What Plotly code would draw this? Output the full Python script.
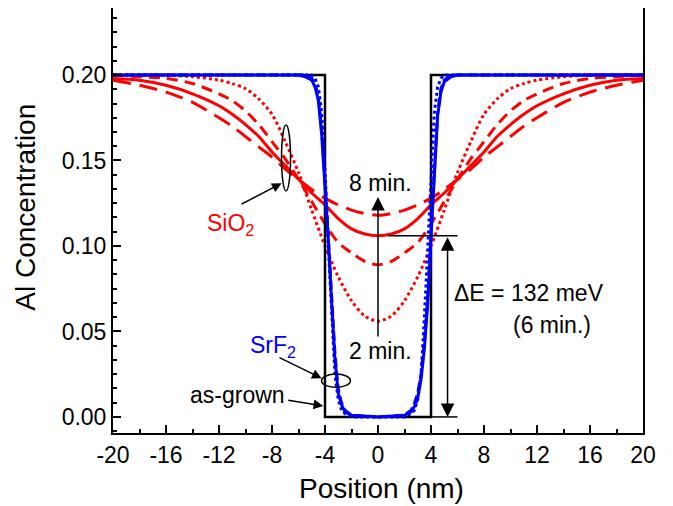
import plotly.graph_objects as go

# ---------------- data ----------------
red_x = [-20, -18, -16, -14, -12, -11, -10, -9, -8, -7, -6, -5, -4, -3, -2, -1, 0,
         1, 2, 3, 4, 5, 6, 7, 8, 9, 10, 11, 12, 14, 16, 18, 20]
sio2_2min = [0.200, 0.200, 0.200, 0.199, 0.197, 0.195, 0.192, 0.186, 0.177, 0.161, 0.143, 0.121, 0.100, 0.082, 0.068, 0.059, 0.056,
             0.059, 0.068, 0.082, 0.100, 0.121, 0.143, 0.161, 0.177, 0.186, 0.192, 0.195, 0.197, 0.199, 0.200, 0.200, 0.200]
sio2_4min = [0.200, 0.199, 0.198, 0.195, 0.189, 0.185, 0.179, 0.171, 0.161, 0.151, 0.139, 0.126, 0.113, 0.102, 0.096, 0.091, 0.089,
             0.091, 0.096, 0.102, 0.113, 0.126, 0.139, 0.151, 0.161, 0.171, 0.179, 0.185, 0.189, 0.195, 0.198, 0.199, 0.200]
sio2_6min = [0.198, 0.197, 0.194, 0.189, 0.182, 0.177, 0.171, 0.164, 0.155, 0.147, 0.139, 0.131, 0.124, 0.116, 0.110, 0.107, 0.106,
             0.107, 0.110, 0.116, 0.124, 0.131, 0.139, 0.147, 0.155, 0.164, 0.171, 0.177, 0.182, 0.189, 0.194, 0.197, 0.198]
sio2_8min = [0.197, 0.194, 0.190, 0.184, 0.175, 0.170, 0.164, 0.158, 0.152, 0.145, 0.139, 0.133, 0.128, 0.124, 0.121, 0.119, 0.118,
             0.119, 0.121, 0.124, 0.128, 0.133, 0.139, 0.145, 0.152, 0.158, 0.164, 0.170, 0.175, 0.184, 0.190, 0.194, 0.197]

blue_x = [-20, -6, -5.5, -5, -4.75, -4.5, -4.25, -4, -3.75, -3.5, -3.25, -3, -2.75, -2.5, -2, 0,
          2, 2.5, 2.75, 3, 3.25, 3.5, 3.75, 4, 4.25, 4.5, 4.75, 5, 5.5, 6, 20]
srf2_solid = [0.2, 0.2, 0.199, 0.197, 0.193, 0.185, 0.165, 0.137, 0.104, 0.067, 0.034, 0.014, 0.007, 0.003, 0.001, 0.0,
              0.001, 0.003, 0.006, 0.011, 0.022, 0.040, 0.066, 0.105, 0.143, 0.176, 0.190, 0.196, 0.199, 0.2, 0.2]
srf2_dash = [0.2, 0.2, 0.2, 0.198, 0.195, 0.187, 0.168, 0.139, 0.106, 0.070, 0.037, 0.016, 0.008, 0.004, 0.001, 0.0,
             0.001, 0.004, 0.008, 0.014, 0.025, 0.044, 0.070, 0.108, 0.146, 0.178, 0.192, 0.197, 0.2, 0.2, 0.2]
srf2_dot = [0.2, 0.2, 0.2, 0.2, 0.198, 0.193, 0.178, 0.145, 0.100, 0.058, 0.025, 0.010, 0.004, 0.002, 0.0, 0.0,
            0.0, 0.002, 0.004, 0.010, 0.025, 0.058, 0.100, 0.145, 0.178, 0.193, 0.198, 0.2, 0.2, 0.2, 0.2]

grown_x = [-20, -4, -4, 4, 4, 20]
grown_y = [0.2, 0.2, 0.0, 0.0, 0.2, 0.2]

x_ticks = [-20, -16, -12, -8, -4, 0, 4, 8, 12, 16, 20]
y_ticks = [0.00, 0.05, 0.10, 0.15, 0.20]

dE_level = 0.106   # minimum of 6-min curve

RED = "#FF0000"
BLUE = "#0000FF"
FONT = "Liberation Sans, Arial, sans-serif"

fig = go.Figure()

# red SiO2 curves
for ys, dash in [(sio2_2min, "3px,3px"), (sio2_4min, "11px,7px"),
                 (sio2_6min, "solid"), (sio2_8min, "18px,9px")]:
    fig.add_trace(go.Scatter(x=red_x, y=ys, mode="lines",
                             line=dict(color=RED, width=3, dash=dash, shape="spline", smoothing=0.8)))

# as-grown step
fig.add_trace(go.Scatter(x=grown_x, y=grown_y, mode="lines",
                         line=dict(color="black", width=2.5)))

# blue SrF2 curves
for ys, dash in [(srf2_dot, "3px,3px"), (srf2_dash, "9px,4px"), (srf2_solid, "solid")]:
    fig.add_trace(go.Scatter(x=blue_x, y=ys, mode="lines",
                             line=dict(color=BLUE, width=3, dash=dash)))

# shapes: ellipses and ΔE reference lines
fig.add_shape(type="circle", xref="x", yref="y", x0=-7.28, x1=-6.60, y0=0.1322, y1=0.1708,
              line=dict(color="black", width=1.5))
fig.add_shape(type="circle", xref="x", yref="y", x0=-4.26, x1=-2.08, y0=0.0173, y1=0.0251,
              line=dict(color="black", width=1.5))
fig.add_shape(type="line", xref="x", yref="y", x0=0.75, x1=6.0, y0=dE_level, y1=dE_level,
              line=dict(color="black", width=1.5))
fig.add_shape(type="line", xref="x", yref="y", x0=4.0, x1=6.0, y0=0, y1=0,
              line=dict(color="black", width=1.5))

ann = []
def arrow(xh, yh, xt, yt, both=False, size=1.2):
    d = dict(x=xh, y=yh, ax=xt, ay=yt, xref="x", yref="y", axref="x", ayref="y",
             text="", showarrow=True, arrowhead=2, arrowsize=size, arrowwidth=1.5,
             arrowcolor="black", standoff=0, startstandoff=0)
    if both:
        d.update(arrowside="end+start", startarrowhead=2, startarrowsize=size)
    ann.append(d)

def label(x, y, t, color="black", size=23):
    ann.append(dict(x=x, y=y, xref="x", yref="y", text=t, showarrow=False,
                    font=dict(family=FONT, size=size, color=color),
                    xanchor="center", yanchor="middle"))

arrow(0, 0.1287, 0, 0.0462, size=1.8)
arrow(5.25, 0.0, 5.25, dE_level, both=True, size=1.8)
arrow(-7.27, 0.1367, -10.42, 0.124, size=1.3)
arrow(-4.25, 0.0226, -7.55, 0.0351, size=1.3)
arrow(-4.13, 0.0064, -6.89, 0.0099, size=1.3)

label(0.2, 0.137, "8 min.")
label(0.2, 0.0386, "2 min.")
label(-11.1, 0.1123, "SiO<sub>2</sub>", RED)
label(-7.9, 0.041, "SrF<sub>2</sub>", BLUE)
label(-10.57, 0.0129, "as-grown")
label(11.4, 0.0725, "ΔE = 132 meV")
label(13.13, 0.0538, "(6 min.)")

# axis titles placed as paper annotations (reference is slightly off-centre)
ann.append(dict(xref="paper", yref="paper", x=0, y=0.53, xshift=-87, text="Al Concentration",
                textangle=-90, showarrow=False, xanchor="center", yanchor="middle",
                font=dict(family=FONT, size=28, color="black")))
ann.append(dict(xref="paper", yref="paper", x=0.506, y=0, yshift=-55, text="Position (nm)",
                showarrow=False, xanchor="center", yanchor="middle",
                font=dict(family=FONT, size=28, color="black")))

# page body has an 8px offset, so the figure is sized to fit the 673x506 view
fig.update_layout(
    width=665, height=498,
    margin=dict(l=105, r=30, t=0, b=73, autoexpand=False),
    paper_bgcolor="white", plot_bgcolor="white",
    showlegend=False,
    annotations=ann,
    font=dict(family=FONT, color="black"),
)

fig.update_xaxes(
    range=[-20, 20], tickmode="array", tickvals=x_ticks,
    ticktext=[str(v) for v in x_ticks],
    ticks="inside", ticklen=8, tickwidth=1.5, tickcolor="black",
    minor=dict(dtick=2, tick0=0, ticks="inside", ticklen=4, tickwidth=1.5, tickcolor="black"),
    showline=True, linewidth=2, linecolor="black", mirror=True,
    showgrid=False, zeroline=False, automargin=False,
    tickfont=dict(family=FONT, size=23, color="black"),
)
fig.update_yaxes(
    range=[-0.0094, 0.2392], tickmode="array", tickvals=y_ticks,
    ticktext=[f"{v:.2f}" for v in y_ticks],
    ticks="inside", ticklen=8, tickwidth=1.5, tickcolor="black",
    minor=dict(dtick=0.05 / 6, tick0=0, ticks="inside", ticklen=4, tickwidth=1.5, tickcolor="black"),
    showline=True, linewidth=2, linecolor="black", mirror=True,
    showgrid=False, zeroline=False, automargin=False,
    tickfont=dict(family=FONT, size=23, color="black"),
)

fig.write_html("out.html")
